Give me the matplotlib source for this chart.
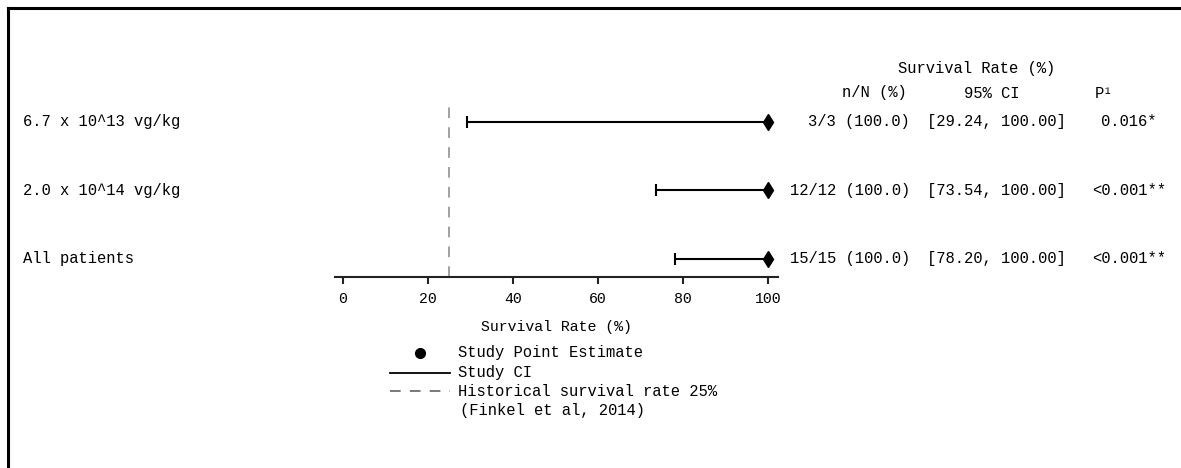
import matplotlib.pyplot as plt
import matplotlib.transforms as mtransforms
from matplotlib.lines import Line2D

plt.rcParams['font.family'] = ['Liberation Mono', 'DejaVu Sans Mono']

# Данные
groups = ['6.7 x 10^13 vg/kg', '2.0 x 10^14 vg/kg', 'All patients']
estimate = [100.0, 100.0, 100.0]
ci_low = [29.24, 73.54, 78.20]
ci_high = [100.0, 100.0, 100.0]
n_text = ['3/3 (100.0)', '12/12 (100.0)', '15/15 (100.0)']
ci_text = ['[29.24, 100.00]', '[73.54, 100.00]', '[78.20, 100.00]']
p_text = ['0.016*', '<0.001**', '<0.001**']
historical = 25
xticks = [0, 20, 40, 60, 80, 100]

W, H = 1181, 468
FS = 11.2


def px(x, y):
    # пиксели -> доли фигуры
    return x / W, 1 - y / H


fig = plt.figure(figsize=(W / 100, H / 100), dpi=100)
ax = fig.add_axes([335 / W, 1 - 277 / H, (778 - 335) / W, (277 - 100) / H])

rows = [3, 2, 1]
ax.set_xlim(-1.88, 102.35)
ax.set_ylim(0.737, 3.32)

# исторический уровень
ax.plot([historical, historical], [0.737, 3.23], color='#888888', lw=1.1,
        linestyle=(0, (7, 6)))

# доверительные интервалы
for r, e, lo, hi in zip(rows, estimate, ci_low, ci_high):
    ax.errorbar(e, r, xerr=[[e - lo], [hi - e]], fmt='none', ecolor='black',
                elinewidth=1.5, capsize=4.5, capthick=1.5)
ax.plot(estimate, rows, linestyle='none', marker='d', ms=8.5, color='black')

for s in ['top', 'right', 'left']:
    ax.spines[s].set_visible(False)
ax.spines['bottom'].set_linewidth(1.5)
ax.spines['bottom'].set_color('#222222')
ax.set_yticks([])
ax.set_xticks(xticks)
ax.tick_params(axis='x', direction='out', length=5, width=1.5, pad=6,
               labelsize=FS - 0.5, color='#222222')
ax.set_xlabel('Survival Rate (%)', fontsize=FS - 0.5, labelpad=10)

# подписи строк и столбцы справа
tr = mtransforms.blended_transform_factory(fig.transFigure, ax.transData)
for r, g, n, c, p in zip(rows, groups, n_text, ci_text, p_text):
    ax.text(23 / W, r, g, transform=tr, fontsize=FS, ha='left', va='center')
    ax.text(910 / W, r, n, transform=tr, fontsize=FS, ha='right', va='center')
    ax.text(927 / W, r, c, transform=tr, fontsize=FS, ha='left', va='center')
    ax.text(1129 / W, r, p, transform=tr, fontsize=FS, ha='center', va='center')

fig.text(*px(977, 68), 'Survival Rate (%)', fontsize=FS, ha='center', va='center')
fig.text(*px(874, 93), 'n/N (%)', fontsize=FS, ha='center', va='center')
fig.text(*px(992, 93), '95% CI', fontsize=FS, ha='center', va='center')
fig.text(*px(1104, 93), 'P¹', fontsize=FS, ha='center', va='center')

# легенда
fig.add_artist(Line2D([px(420, 0)[0]], [px(0, 353)[1]], marker='o', ms=7,
                      color='black', linestyle='none'))
fig.add_artist(Line2D([px(390, 0)[0], px(450, 0)[0]], [px(0, 373)[1]] * 2,
                      color='black', lw=1.3))
fig.add_artist(Line2D([px(390, 0)[0], px(450, 0)[0]], [px(0, 391)[1]] * 2,
                      color='#555555', lw=1.1, linestyle=(0, (7, 6))))
fig.text(*px(458, 353), 'Study Point Estimate', fontsize=FS, va='center')
fig.text(*px(458, 373), 'Study CI', fontsize=FS, va='center')
fig.text(*px(458, 391), 'Historical survival rate 25%', fontsize=FS, va='center')
fig.text(*px(460, 410), '(Finkel et al, 2014)', fontsize=FS, va='center')

# рамка
fig.add_artist(Line2D([px(8, 0)[0], 1], [px(0, 8)[1]] * 2, color='black', lw=2.2))
fig.add_artist(Line2D([px(8, 0)[0]] * 2, [px(0, 8)[1], 0], color='black', lw=2.2))

fig.savefig('out.png', dpi=100)
